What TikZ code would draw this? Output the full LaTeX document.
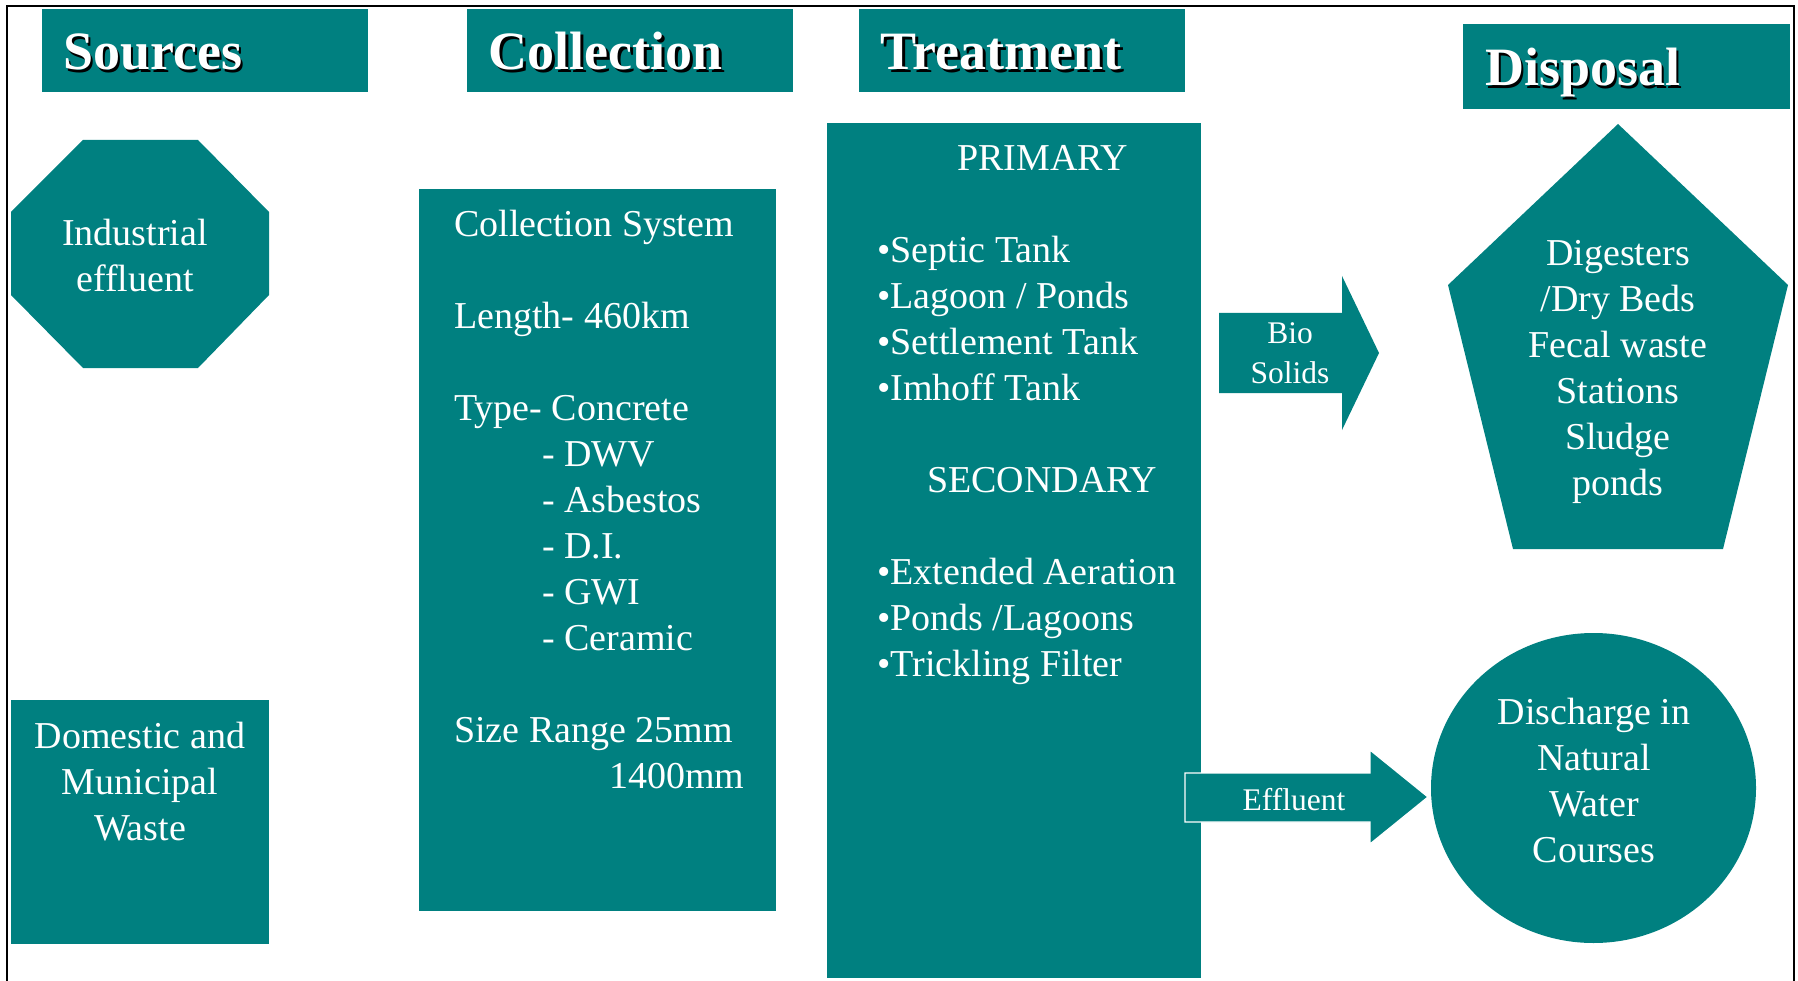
\documentclass[tikz,border=0pt]{standalone}
\usepackage{fontspec}
\setmainfont{Liberation Serif}
\usetikzlibrary{shapes.geometric}
\definecolor{tealA}{RGB}{0,128,128}
\begin{document}
\begin{tikzpicture}[x=1pt,y=-1pt,
  box/.style={fill=tealA,draw=none,inner sep=0pt,anchor=north west},
  body/.style={text=white,font=\fontsize{38}{46}\selectfont,inner sep=0pt},
  small/.style={text=white,font=\fontsize{31.5}{40}\selectfont,inner sep=0pt},
  headtxt/.style={font=\bfseries\fontsize{54}{60}\selectfont,inner sep=0pt,anchor=base west,text=white},
  headshadow/.style={headtxt,text=black}]
\useasboundingbox (0,0) rectangle (1798,981);
\draw[line width=2.6pt] (7,990) -- (7,6) -- (1794,6) -- (1794,990);

% header boxes
\node[box,minimum width=326,minimum height=83] (srcbox) at (42,9) {};
\node[box,minimum width=326,minimum height=83] (colbox) at (467,9) {};
\node[box,minimum width=326,minimum height=83] (trtbox) at (859,9) {};
\node[box,minimum width=327,minimum height=85] (dspbox) at (1463,24) {};
\node[headshadow] (srcsh) at (65.5,72.5) {Sources};
\node[headtxt] (srchd) at (63,70) {Sources};
\node[headshadow] (colsh) at (491,72.5) {Collection};
\node[headtxt] (colhd) at (488.5,70) {Collection};
\node[headshadow] (trtsh) at (883,72.5) {Treatment};
\node[headtxt] (trthd) at (880.5,70) {Treatment};
\node[headshadow] (dspsh) at (1487.5,88.5) {Disposal};
\node[headtxt] (dsphd) at (1485,86) {Disposal};

% sources
\fill[tealA] (83,140) -- (198,140) -- (269,212) -- (269,295) -- (198,368) -- (83,368) -- (11,295) -- (11,212) -- cycle;
\node[body,align=center,anchor=north] (ind) at (135,219) {Industrial\\effluent};
\node[box,minimum width=258,minimum height=244] (dombox) at (11,700) {};
\node[body,align=center,anchor=north] (dom) at (140,722) {Domestic and\\Municipal\\Waste};

% collection
\node[box,minimum width=357,minimum height=722] (collbig) at (419,189) {};
\node[body,align=left,anchor=north west] (colltxt) at (454,210) {Collection System\\[46pt]Length- 460km\\[46pt]Type- Concrete\\
\hspace*{88pt}- DWV\\\hspace*{88pt}- Asbestos\\\hspace*{88pt}- D.I.\\\hspace*{88pt}- GWI\\\hspace*{88pt}- Ceramic\\[46pt]
Size Range 25mm\\\hspace*{155pt}1400mm};

% treatment
\node[box,minimum width=374,minimum height=855] (trtbig) at (827,123) {};
\node[body,align=left,anchor=north west] (trttxt) at (877,145) {\hspace*{80pt}PRIMARY\\[46pt]%
•Septic Tank\\•Lagoon / Ponds\\•Settlement Tank\\•Imhoff Tank\\[46pt]%
\hspace*{50pt}SECONDARY\\[46pt]%
•Extended Aeration\\•Ponds /Lagoons\\•Trickling Filter};

% arrows
\fill[tealA] (1219,313) -- (1342,313) -- (1342,276) -- (1379,353) -- (1342,430) -- (1342,393) -- (1219,393) -- cycle;
\node[small,align=center,anchor=north] (bio) at (1290,322.5) {Bio\\Solids};
\filldraw[fill=tealA,draw=white,line width=1.3pt] (1185,773) -- (1370,773) -- (1370,750) -- (1428,797) -- (1370,844) -- (1370,822) -- (1185,822) -- cycle;
\node[small,anchor=base] (eff) at (1294,810) {Effluent};

% disposal
\fill[tealA] (1618,124) -- (1788,285) -- (1723,549) -- (1513,549) -- (1448,285) -- cycle;
\node[body,align=center,anchor=north] (dig) at (1618,240) {Digesters\\/Dry Beds\\Fecal waste\\Stations\\Sludge\\ponds};
\node[ellipse,fill=tealA,inner sep=0pt,minimum width=325,minimum height=310] (circ) at (1593.5,788) {};
\node[body,align=center,anchor=north] (dis) at (1594,698) {Discharge in\\Natural\\Water\\Courses};
\end{tikzpicture}
\end{document}
